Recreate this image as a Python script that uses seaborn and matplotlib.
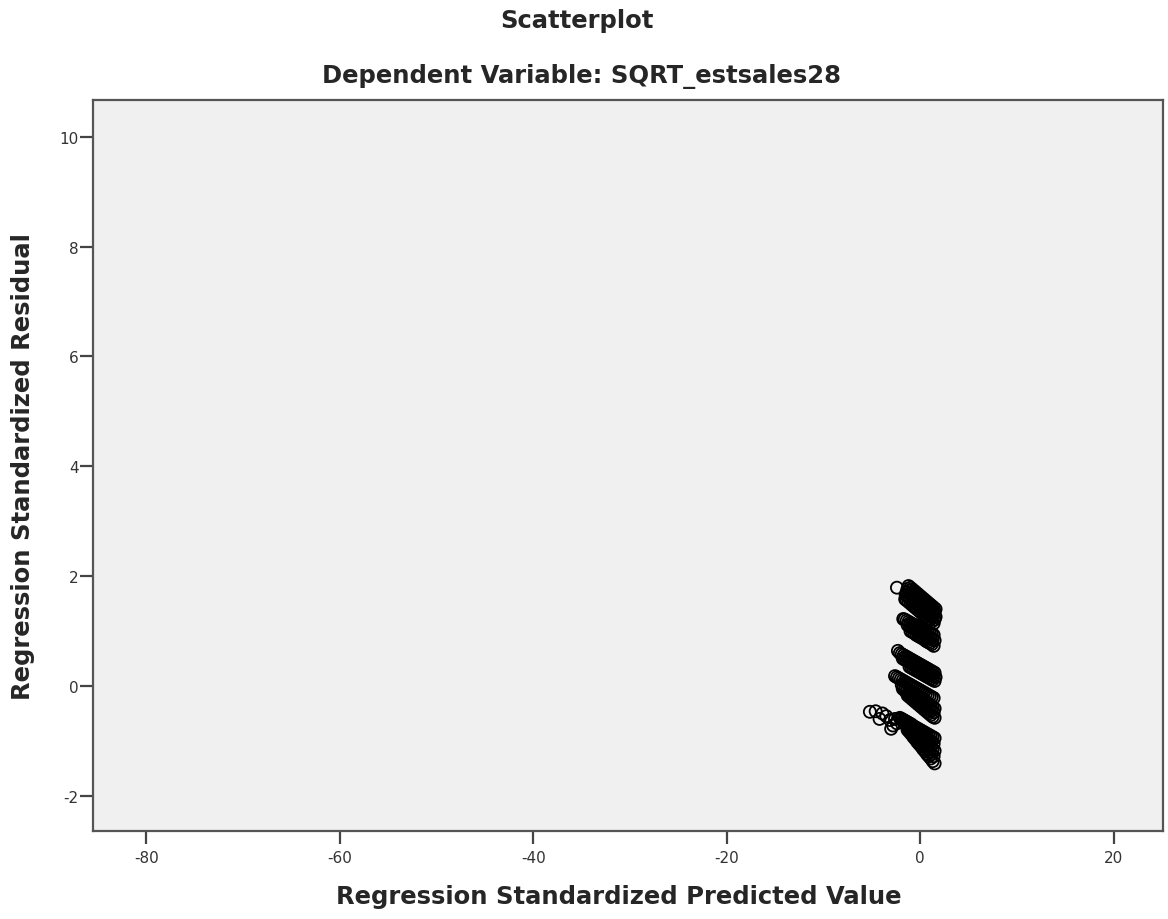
import matplotlib
matplotlib.use("Agg")
import matplotlib.pyplot as plt
import seaborn as sns
import pandas as pd

# Band A (top)
a_x = [-2.4,
       -1.2, -1.0, -0.8, -0.6, -0.4, -0.2, 0.0, 0.2, 0.4, 0.6, 0.8, 1.0, 1.2, 1.4, 1.6,
       -1.3, -1.1, -0.9, -0.7, -0.5, -0.3, -0.1, 0.1, 0.3, 0.5, 0.7, 0.9, 1.1, 1.3, 1.5,
       -1.4, -1.2, -1.0, -0.8, -0.6, -0.4, -0.2, 0.0, 0.2, 0.4, 0.6, 0.8, 1.0, 1.2, 1.4, 1.6,
       -1.5, -1.3, -1.1, -0.9, -0.7, -0.5, -0.3, -0.1, 0.1, 0.3, 0.5, 0.7, 0.9, 1.1, 1.3, 1.5,
       -1.55, -1.4, -1.2, -1.0, -0.8, -0.6, -0.4, -0.2, 0.0, 0.2, 0.4, 0.6, 0.8, 1.0, 1.2, 1.4]
a_y = [1.79,
       1.82, 1.79, 1.76, 1.73, 1.70, 1.67, 1.64, 1.61, 1.58, 1.55, 1.52, 1.49, 1.46, 1.43, 1.40,
       1.77, 1.74, 1.71, 1.68, 1.65, 1.62, 1.59, 1.56, 1.53, 1.50, 1.47, 1.44, 1.41, 1.38, 1.35,
       1.71, 1.68, 1.65, 1.62, 1.59, 1.56, 1.53, 1.50, 1.47, 1.44, 1.41, 1.38, 1.35, 1.32, 1.29, 1.26,
       1.66, 1.63, 1.60, 1.57, 1.54, 1.51, 1.48, 1.45, 1.42, 1.39, 1.36, 1.33, 1.30, 1.27, 1.24, 1.21,
       1.58, 1.56, 1.53, 1.50, 1.47, 1.44, 1.41, 1.38, 1.35, 1.32, 1.29, 1.26, 1.23, 1.20, 1.17, 1.14]
# Band B
b_x = [-1.75, -1.6, -1.4, -1.2, -1.0, -0.8, -0.6, -0.4, -0.2, 0.0, 0.2, 0.4, 0.6, 0.8, 1.0, 1.2, 1.4,
       -1.3, -1.1, -0.9, -0.7, -0.5, -0.3, -0.1, 0.1, 0.3, 0.5, 0.7, 0.9, 1.1, 1.3, 1.5,
       -1.0, -0.8, -0.6, -0.4, -0.2, 0.0, 0.2, 0.4, 0.6, 0.8, 1.0, 1.2, 1.4]
b_y = [1.22, 1.21, 1.19, 1.17, 1.15, 1.13, 1.11, 1.10, 1.08, 1.06, 1.04, 1.02, 1.00, 0.99, 0.97, 0.95, 0.93,
       1.11, 1.09, 1.07, 1.05, 1.03, 1.01, 0.99, 0.97, 0.95, 0.93, 0.91, 0.89, 0.87, 0.85, 0.83,
       1.00, 0.98, 0.96, 0.93, 0.91, 0.89, 0.87, 0.85, 0.82, 0.80, 0.78, 0.76, 0.73]
# Band C
c_x = [-2.3, -2.1, -1.9, -1.7, -1.5, -1.3, -1.1, -0.9, -0.7, -0.5, -0.3, -0.1, 0.1, 0.3, 0.5, 0.7, 0.9, 1.1, 1.3, 1.5,
       -1.8, -1.6, -1.4, -1.2, -1.0, -0.8, -0.6, -0.4, -0.2, 0.0, 0.2, 0.4, 0.6, 0.8, 1.0, 1.2, 1.4, 1.6,
       -1.1, -0.9, -0.7, -0.5, -0.3, -0.1, 0.1, 0.3, 0.5, 0.7, 0.9, 1.1, 1.3, 1.5]
c_y = [0.64, 0.60, 0.58, 0.56, 0.54, 0.52, 0.50, 0.48, 0.46, 0.44, 0.42, 0.40, 0.38, 0.36, 0.34, 0.32, 0.30, 0.28, 0.26, 0.24,
       0.50, 0.48, 0.46, 0.44, 0.42, 0.40, 0.38, 0.36, 0.34, 0.32, 0.30, 0.28, 0.26, 0.24, 0.22, 0.20, 0.18, 0.16,
       0.35, 0.33, 0.31, 0.29, 0.27, 0.25, 0.23, 0.21, 0.19, 0.17, 0.15, 0.13, 0.11, 0.09]
# Band D
d_x = [-2.6, -2.4, -2.2, -2.0, -1.8, -1.6, -1.4, -1.2, -1.0, -0.8, -0.6, -0.4, -0.2, 0.0, 0.2, 0.4, 0.6, 0.8, 1.0, 1.2, 1.4,
       -1.9, -1.7, -1.5, -1.3, -1.1, -0.9, -0.7, -0.5, -0.3, -0.1, 0.1, 0.3, 0.5, 0.7, 0.9, 1.1, 1.3, 1.5,
       -1.8, -1.6, -1.4, -1.2, -1.0, -0.8, -0.6, -0.4, -0.2, 0.0, 0.2, 0.4, 0.6, 0.8, 1.0, 1.2, 1.4,
       -1.3, -1.1, -0.9, -0.7, -0.5, -0.3, -0.1, 0.1, 0.3, 0.5, 0.7, 0.9, 1.1, 1.3, 1.5]
d_y = [0.18, 0.16, 0.14, 0.12, 0.10, 0.08, 0.06, 0.04, 0.02, 0.00, -0.02, -0.04, -0.06, -0.08, -0.10, -0.12, -0.14, -0.16, -0.18, -0.20, -0.22,
       0.02, -0.01, -0.03, -0.06, -0.08, -0.11, -0.13, -0.16, -0.18, -0.21, -0.23, -0.26, -0.28, -0.31, -0.33, -0.36, -0.38, -0.41,
       -0.05, -0.08, -0.10, -0.13, -0.155, -0.18, -0.21, -0.24, -0.26, -0.29, -0.32, -0.34, -0.37, -0.40, -0.43, -0.45, -0.48,
       -0.17, -0.20, -0.23, -0.26, -0.29, -0.32, -0.35, -0.38, -0.41, -0.44, -0.47, -0.50, -0.53, -0.56, -0.58]
# Band E (bottom, widest) with the loose points on its left
e_x = [-5.2, -4.6, -3.9, -3.5, -4.2, -3.1, -3.0, -2.6, -2.8, -2.4,
       -2.1, -1.9, -1.7, -1.5, -1.3, -1.1, -0.9, -0.7, -0.5, -0.3, -0.1, 0.1, 0.3, 0.5, 0.7, 0.9, 1.1, 1.3, 1.5,
       -2.0, -1.8, -1.6, -1.4, -1.2, -1.0, -0.8, -0.6, -0.4, -0.2, 0.0, 0.2, 0.4, 0.6, 0.8, 1.0, 1.2, 1.4,
       -1.7, -1.5, -1.3, -1.1, -0.9, -0.7, -0.5, -0.3, -0.1, 0.1, 0.3, 0.5, 0.7, 0.9, 1.1, 1.3, 1.5,
       -1.2, -1.0, -0.8, -0.6, -0.4, -0.2, 0.0, 0.2, 0.4, 0.6, 0.8, 1.0, 1.2, 1.4,
       -1.3, -1.1, -0.9, -0.7, -0.5, -0.3, -0.1, 0.1, 0.3, 0.5, 0.7, 0.9, 1.1, 1.3, 1.5]
e_y = [-0.47, -0.46, -0.50, -0.55, -0.60, -0.62, -0.78, -0.60, -0.72, -0.68,
       -0.58, -0.60, -0.62, -0.64, -0.66, -0.68, -0.70, -0.73, -0.75, -0.77, -0.79, -0.81, -0.83, -0.85, -0.87, -0.89, -0.91, -0.93, -0.95,
       -0.60, -0.63, -0.65, -0.68, -0.70, -0.73, -0.76, -0.78, -0.81, -0.84, -0.86, -0.89, -0.92, -0.94, -0.97, -1.00, -1.02, -1.05,
       -0.67, -0.70, -0.73, -0.76, -0.79, -0.83, -0.86, -0.89, -0.92, -0.95, -0.99, -1.02, -1.05, -1.08, -1.11, -1.15, -1.18,
       -0.78, -0.82, -0.86, -0.90, -0.93, -0.97, -1.01, -1.05, -1.09, -1.12, -1.16, -1.20, -1.24, -1.28,
       -0.80, -0.84, -0.88, -0.93, -0.97, -1.02, -1.06, -1.10, -1.15, -1.19, -1.24, -1.28, -1.32, -1.37, -1.41]

x_ticks = [-80, -60, -40, -20, 0, 20]
y_ticks = [-2, 0, 2, 4, 6, 8, 10]

df = pd.DataFrame({
    "pred": a_x + b_x + c_x + d_x + e_x,
    "resid": a_y + b_y + c_y + d_y + e_y,
})

sns.set_style("white")
plt.rcParams["font.family"] = ["DejaVu Sans"]
plt.rcParams["axes.unicode_minus"] = False

fig = plt.figure(figsize=(11.68, 9.2), dpi=100)
ax = fig.add_axes([0.0796, 0.0957, 0.9161, 0.7945])
ax.set_facecolor("#F0F0F0")

sns.scatterplot(data=df, x="pred", y="resid", ax=ax, marker="o", s=75,
                facecolor="none", edgecolor="black", linewidth=1.3)

ax.set_xlim(-85.5, 25.1)
ax.set_ylim(-2.64, 10.67)
ax.set_xticks(x_ticks)
ax.set_yticks(y_ticks)
ax.tick_params(axis="both", direction="out", length=9.5, width=1.6,
               color="#444444", labelsize=11, labelcolor="#333333",
               left=True, bottom=True)
ax.tick_params(axis="y", pad=1)
ax.tick_params(axis="x", pad=4)
for sp in ax.spines.values():
    sp.set_color("#555555")
    sp.set_linewidth(1.6)

ax.set_xlabel("Regression Standardized Predicted Value", fontsize=17.5,
              fontweight="bold")
ax.set_ylabel("Regression Standardized Residual", fontsize=17.5,
              fontweight="bold")
ax.xaxis.set_label_coords(0.491, -0.072)
ax.yaxis.set_label_coords(-0.054, 0.5)

fig.text(0.494, 0.977, "Scatterplot", ha="center", va="center",
         fontsize=17.5, fontweight="bold")
fig.text(0.498, 0.917, "Dependent Variable: SQRT_estsales28", ha="center",
         va="center", fontsize=17.5, fontweight="bold")

fig.savefig("out.png", dpi=100)
